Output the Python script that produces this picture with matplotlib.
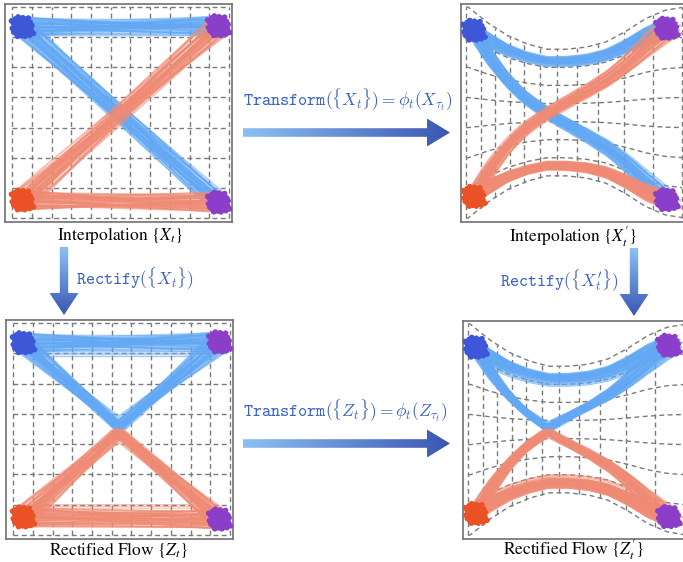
import numpy as np
import matplotlib
matplotlib.use('Agg')
import matplotlib.pyplot as plt
from matplotlib.patches import Polygon
from matplotlib.collections import LineCollection
from matplotlib.colors import LinearSegmentedColormap

# ---------------- data ----------------
grid_cols = 11
grid_rows = 7
# cluster centres (grid units)
center_tl = (0.5, 6.35)    # blue source
center_tr = (10.45, 6.38)  # purple target (top)
center_bl = (0.5, 0.60)    # red source
center_br = (10.45, 0.53)  # purple target (bottom)
# hand-read point offsets inside each cloud (normalised)
cloud_dx = [0.00, 0.35, -0.42, 0.18, -0.25, 0.62, -0.70, 0.08, -0.15, 0.45,
            -0.55, 0.75, 0.25, -0.80, 0.55, -0.35, 0.85, -0.05, 0.15, -0.48,
            0.30, -0.20, 0.68, -0.62, 0.05, 0.40, -0.30, 0.58, -0.75, 0.20,
            -0.10, 0.90, -0.88, 0.48, -0.40, 0.10, 1.05, -0.95, 0.70, -0.58]
cloud_dy = [0.00, 0.22, 0.30, -0.55, -0.38, -0.08, -0.12, 0.78, 0.58, 0.55,
            -0.60, 0.38, -0.85, 0.40, -0.48, 0.85, -0.30, -0.78, 0.35, -0.20,
            0.65, -0.05, 0.10, 0.15, -0.30, -0.15, 0.05, 0.75, -0.45, 0.00,
            0.30, 0.10, -0.15, -0.70, -0.85, -0.55, -0.60, 0.50, -0.75, 0.68]
# rectified flow: meeting points of the V-shaped paths
meet_blue = (5.35, 3.58)
meet_red = (5.35, 3.40)
# inner straggler corridors in rectified flow
inner_blue_y = 5.95
inner_red_y = 0.95
inner_x = (1.4, 8.9)
warp_x_src = [-1, 0, 1, 2, 3, 4, 5, 6, 7, 8, 9, 10, 11, 12]
warp_x_dst = [-1.1, -0.1, 0.65, 1.38, 2.1, 2.82, 3.65, 4.52, 5.5, 6.6, 7.9, 9.4, 10.85, 12.2]
squeeze_x = [-1, 0, 1, 2, 3, 4, 5, 6, 7, 8, 9, 10, 11, 12]
squeeze_g = [1.0, 1.0, 0.85, 0.73, 0.65, 0.60, 0.60, 0.62, 0.67, 0.77, 0.89, 0.97, 1.0, 1.0]

captions = [r'Interpolation $\{X_t\}$', r"Interpolation $\{X_t^{\prime}\}$",
            r'Rectified Flow $\{Z_t\}$', r"Rectified Flow $\{Z_t^{\prime}\}$"]
transform_labels = [r'$\mathtt{Transform}(\{X_t\})=\phi_t(X_{\tau_t})$',
                    r'$\mathtt{Transform}(\{Z_t\})=\phi_t(Z_{\tau_t})$']
rectify_labels = [r'$\mathtt{Rectify}(\{X_t\})$',
                  r'$\mathtt{Rectify}(\{X_t^{\prime}\})$']

# ---------------- style ----------------
W, H = 683, 562
BLUE_LINE = '#62a8f4'
RED_LINE = '#ef8b74'
BLUE_PT = '#3e56d8'
RED_PT = '#ea5226'
PURPLE_PT = '#8b3ec9'
GRID = '#7a7a7a'
TEXT_BLUE = '#3b63c2'
SX, SY = 0.56, 0.38

fig = plt.figure(figsize=(W / 100, H / 100), dpi=100)

off = np.column_stack([np.array(cloud_dx) * SX, np.array(cloud_dy) * SY])
N = len(off)


def warp_pts(p):
    xp = np.interp(p[:, 0], warp_x_src, warp_x_dst)
    yp = 3.5 + (p[:, 1] - 3.5) * np.interp(xp, squeeze_x, squeeze_g)
    return np.column_stack([xp, yp])


def densify(pts, n=50):
    out = []
    for a, b in zip(pts[:-1], pts[1:]):
        t = np.linspace(0, 1, n)[:, None]
        out.append(np.array(a) + (np.array(b) - np.array(a)) * t)
    return np.vstack(out)


def make_ax(left, top, w=227, h=218):
    ax = fig.add_axes([left / W, 1 - (top + h) / H, w / W, h / H])
    ax.set_xlim(-0.36, 11.15)
    ax.set_ylim(-0.13, 7.1)
    ax.set_xticks([]); ax.set_yticks([])
    for s in ax.spines.values():
        s.set_color('#707070'); s.set_linewidth(1.2)
    return ax


def draw_grid(ax, warped):
    segs = []
    for i in range(grid_cols + 1):
        p = np.column_stack([np.full(80, i), np.linspace(0, grid_rows, 80)])
        segs.append(warp_pts(p) if warped else p)
    for j in range(grid_rows + 1):
        p = np.column_stack([np.linspace(0, grid_cols, 160), np.full(160, j)])
        segs.append(warp_pts(p) if warped else p)
    ax.add_collection(LineCollection(segs, colors=GRID, linewidths=1.0,
                                     linestyles=(0, (3.5, 2.5)), zorder=1))


def band(c0, c1, mid=None, shift=17, mid_scale=(0.35, 0.14)):
    paths = []
    for k in range(N):
        a = np.array(c0) + off[k]
        b = np.array(c1) + off[(k + shift) % N]
        if mid is None:
            pts = [a, b]
        else:
            m = np.array(mid) + off[(k + 5) % N] * np.array(mid_scale) / np.array([SX, SY])
            pts = [a, m, b]
        paths.append(densify(pts))
    return paths


def draw_paths(ax, paths, color, warped, lw=1.2, alpha=0.55):
    segs = [warp_pts(p) if warped else p for p in paths]
    ax.add_collection(LineCollection(segs, colors=color, linewidths=lw, alpha=alpha, zorder=3))


def draw_clouds(ax, warped):
    for c, col in [(center_tl, BLUE_PT), (center_tr, PURPLE_PT),
                   (center_bl, RED_PT), (center_br, PURPLE_PT)]:
        cc = np.array([c])
        if warped:
            cc = warp_pts(cc)
        pts = cc + off
        ax.scatter(pts[:, 0], pts[:, 1], s=16, color=col, edgecolors='none', zorder=5)
        ax.scatter(pts[:, 0] * 0.65 + cc[0, 0] * 0.35, pts[:, 1] * 0.65 + cc[0, 1] * 0.35,
                   s=40, color=col, edgecolors='none', zorder=5)


def interp_panel(ax, warped):
    draw_grid(ax, warped)
    draw_paths(ax, band(center_tl, center_tr), BLUE_LINE, warped)
    draw_paths(ax, band(center_tl, center_br, shift=11), BLUE_LINE, warped)
    draw_paths(ax, band(center_bl, center_tr, shift=23), RED_LINE, warped, alpha=0.6)
    draw_paths(ax, band(center_bl, center_br, shift=29), RED_LINE, warped, alpha=0.6)
    draw_clouds(ax, warped)


def rect_panel(ax, warped):
    draw_grid(ax, warped)
    draw_paths(ax, band(center_tl, center_tr), BLUE_LINE, warped)
    draw_paths(ax, band(center_tl, center_tr, mid=meet_blue, shift=13), BLUE_LINE, warped)
    draw_paths(ax, band(center_bl, center_br, shift=21), RED_LINE, warped, alpha=0.6)
    draw_paths(ax, band(center_bl, center_br, mid=meet_red, shift=9), RED_LINE, warped, alpha=0.6)
    # thin inner stragglers
    thin_b, thin_r = [], []
    for d in (0.0, -0.06, 0.05):
        thin_b.append(densify([center_tl, (inner_x[0], inner_blue_y + d),
                               (inner_x[1], inner_blue_y + d), center_tr]))
        thin_r.append(densify([center_bl, (inner_x[0], inner_red_y + d),
                               (inner_x[1], inner_red_y + d), center_br]))
        thin_b.append(densify([center_tl, (meet_blue[0], meet_blue[1] + 0.3 + d), center_tr]))
        thin_r.append(densify([center_bl, (meet_red[0], meet_red[1] - 0.3 + d), center_br]))
    draw_paths(ax, thin_b, BLUE_LINE, warped, lw=0.7, alpha=0.7)
    draw_paths(ax, thin_r, RED_LINE, warped, lw=0.7, alpha=0.7)
    draw_clouds(ax, warped)


ax_tl = make_ax(5, 4)
ax_tr = make_ax(461, 4, w=232)
ax_bl = make_ax(6, 320, h=219)
ax_br = make_ax(463, 321, w=232, h=218)
for ax in (ax_tr, ax_br):
    ax.set_xlim(-0.36, 11.15 + 5 / 19.7)
interp_panel(ax_tl, False)
interp_panel(ax_tr, True)
rect_panel(ax_bl, False)
rect_panel(ax_br, True)

# ---------------- overlay: arrows and text ----------------
ov = fig.add_axes([0, 0, 1, 1])
ov.patch.set_visible(False)
ov.axis('off')
cmap = LinearSegmentedColormap.from_list('arr', ['#8dc0f4', '#3a55b3'])


def h_arrow(x0, x1, yc, hw=4.3, hh=14, hl=23):
    xh = x1 - hl
    poly = Polygon([(x0, yc - hw), (xh, yc - hw), (xh, yc - hh), (x1, yc),
                    (xh, yc + hh), (xh, yc + hw), (x0, yc + hw)],
                   closed=True, fc='none', ec='none')
    ov.add_patch(poly)
    im = ov.imshow(np.linspace(0, 1, 256)[None, :], cmap=cmap,
                   extent=(x0, x1, yc + hh, yc - hh), aspect='auto', interpolation='bilinear')
    im.set_clip_path(poly)


def v_arrow(xc, y0, y1, hw=4.2, hh=14.5, hl=22):
    yh = y1 - hl
    poly = Polygon([(xc - hw, y0), (xc - hw, yh), (xc - hh, yh), (xc, y1),
                    (xc + hh, yh), (xc + hw, yh), (xc + hw, y0)],
                   closed=True, fc='none', ec='none')
    ov.add_patch(poly)
    im = ov.imshow(np.linspace(0, 1, 256)[:, None], cmap=cmap,
                   extent=(xc - hh, xc + hh, y1, y0), aspect='auto', interpolation='bilinear')
    im.set_clip_path(poly)


h_arrow(243, 450, 132.5)
h_arrow(243, 450, 443.5)
v_arrow(64, 247, 315)
v_arrow(634, 248, 316)

ov.text(243, 100, transform_labels[0], ha='left', va='center', fontsize=12.5,
        color=TEXT_BLUE, math_fontfamily='cm')
ov.text(243, 411, transform_labels[1], ha='left', va='center', fontsize=12.5,
        color=TEXT_BLUE, math_fontfamily='cm')
ov.text(76, 279, rectify_labels[0], ha='left', va='center', fontsize=12.5,
        color=TEXT_BLUE, math_fontfamily='cm')
ov.text(619, 281, rectify_labels[1], ha='right', va='center', fontsize=12.5,
        color=TEXT_BLUE, math_fontfamily='cm')

for (x, y), s in zip([(120, 236), (573, 237), (118, 550), (573, 550)], captions):
    ov.text(x, y, s, ha='center', va='center', fontsize=12.5, color='black',
            family='STIXGeneral', math_fontfamily='stix')

ov.set_xlim(0, W)
ov.set_ylim(H, 0)

fig.savefig('out.png', dpi=100)
